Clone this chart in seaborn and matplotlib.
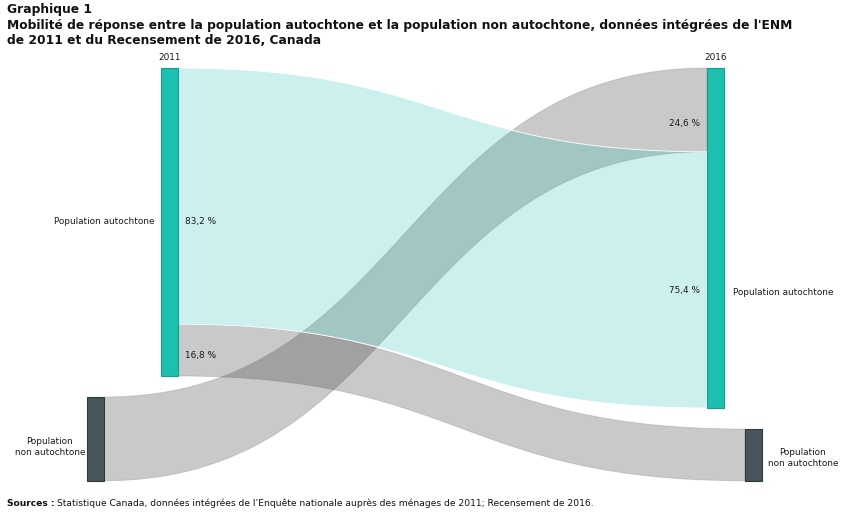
import matplotlib
matplotlib.use("Agg")
import matplotlib.pyplot as plt
from matplotlib.path import Path
from matplotlib.patches import PathPatch, Rectangle
from matplotlib.colors import to_rgba
import seaborn as sns

# ---------------- data ----------------
nodes_2011 = ["Population autochtone", "Population non autochtone"]
nodes_2016 = ["Population autochtone", "Population non autochtone"]
year_labels = ["2011", "2016"]
# flows (source index in 2011, target index in 2016, value; 2011 autochtone = 100)
flow_source = [0, 0, 1]
flow_target = [0, 1, 0]
flow_value = [83.2, 16.8, 27.2]
title_lines = ["Graphique 1",
               "Mobilité de réponse entre la population autochtone et la population non autochtone, données intégrées de l'ENM",
               "de 2011 et du Recensement de 2016, Canada"]
source_note = "Statistique Canada, données intégrées de l\u2019Enquête nationale auprès des ménages de 2011; Recensement de 2016."

# ---------------- style ----------------
sns.set_theme(style="white")
plt.rcParams['font.family'] = ['DejaVu Sans']

teal = "#1cbfb0"
teal_edge = "#159c8f"
dark = "#48555a"
dark_edge = "#2f3a3e"
node_colors = [teal, dark]
node_edges = [teal_edge, dark_edge]
stay_color = to_rgba("#1bbfaf", 0.22)     # same group in 2011 and 2016
move_color = to_rgba("#363636", 0.265)    # changed group

W, H = 850, 515
fig = plt.figure(figsize=(W / 100, H / 100), dpi=100)
ax = fig.add_axes([0, 0, 1, 1])
ax.set_xlim(0, W)
ax.set_ylim(H, 0)
ax.axis("off")

# layout (pixels)
scale = 3.08          # px per unit
top = 68
gap = 21
node_w = 17
x_left = [161, 87]
x_right = [707, 745]

def totals(idx_list, n):
    t = [0.0] * n
    for i, v in zip(idx_list, flow_value):
        t[i] += v
    return t

tot_l = totals(flow_source, len(nodes_2011))
tot_r = totals(flow_target, len(nodes_2016))

def node_y(tots):
    ys, y = [], top
    for t in tots:
        ys.append(y)
        y += t * scale + gap
    return ys

y_l = node_y(tot_l)
y_r = node_y(tot_r)

# order of links within each node end
order_src = {0: [0, 1], 1: [2]}
order_tgt = {0: [2, 0], 1: [1]}
src_pos, tgt_pos = {}, {}
for n, lst in order_src.items():
    y = y_l[n]
    for k in lst:
        src_pos[k] = (y, y + flow_value[k] * scale)
        y += flow_value[k] * scale
for n, lst in order_tgt.items():
    y = y_r[n]
    for k in lst:
        tgt_pos[k] = (y, y + flow_value[k] * scale)
        y += flow_value[k] * scale

# links: grey (moves) first, teal (stay) on top
draw_order = sorted(range(len(flow_value)), key=lambda k: flow_source[k] == flow_target[k])
for k in draw_order:
    s, t = flow_source[k], flow_target[k]
    stay = (nodes_2011[s] == nodes_2016[t])
    x0 = x_left[s] + node_w
    x1 = x_right[t]
    xm = (x0 + x1) / 2
    (a0, a1), (b0, b1) = src_pos[k], tgt_pos[k]
    verts = [(x0, a0), (xm, a0), (xm, b0), (x1, b0),
             (x1, b1), (xm, b1), (xm, a1), (x0, a1), (x0, a0)]
    codes = [Path.MOVETO, Path.CURVE4, Path.CURVE4, Path.CURVE4,
             Path.LINETO, Path.CURVE4, Path.CURVE4, Path.CURVE4, Path.CLOSEPOLY]
    ax.add_patch(PathPatch(Path(verts, codes),
                           facecolor=stay_color if stay else move_color,
                           edgecolor=(1, 1, 1, 0.9) if stay else (0.45, 0.45, 0.45, 0.25),
                           lw=0.7, zorder=2))

# nodes
for i, name in enumerate(nodes_2011):
    ax.add_patch(Rectangle((x_left[i], y_l[i]), node_w, tot_l[i] * scale,
                           facecolor=node_colors[i], edgecolor=node_edges[i], lw=0.8, zorder=3))
for i, name in enumerate(nodes_2016):
    ax.add_patch(Rectangle((x_right[i], y_r[i]), node_w, tot_r[i] * scale,
                           facecolor=node_colors[i], edgecolor=node_edges[i], lw=0.8, zorder=3))

fs = 6.4
col_txt = "#1a1a1a"
# year labels
ax.text(x_left[0] + node_w / 2, top - 6, year_labels[0], ha="center", va="bottom", fontsize=fs, color=col_txt)
ax.text(x_right[0] + node_w / 2, top - 6, year_labels[1], ha="center", va="bottom", fontsize=fs, color=col_txt)

# node labels
def wrap(n):
    return n.replace("Population non", "Population\nnon")

ax.text(x_left[0] - 6, y_l[0] + tot_l[0] * scale / 2, wrap(nodes_2011[0]), ha="right", va="center", fontsize=fs, color=col_txt)
ax.text(x_left[1] - 37, y_l[1] + tot_l[1] * scale / 2 + 8, wrap(nodes_2011[1]), ha="center", va="center",
        fontsize=fs, color=col_txt, linespacing=1.25)
ax.text(x_right[0] + node_w + 9, y_r[0] + tot_r[0] * scale * 0.66, wrap(nodes_2016[0]), ha="left", va="center",
        fontsize=fs, color=col_txt)
ax.text(x_right[1] + node_w + 41, y_r[1] + tot_r[1] * scale / 2 + 3, wrap(nodes_2016[1]), ha="center", va="center",
        fontsize=fs, color=col_txt, linespacing=1.25)

# link percentage labels
def pct(v, tot):
    return f"{100 * v / tot:.1f}".replace(".", ",") + " %"

for k in [0, 1]:
    a0, a1 = src_pos[k]
    ax.text(x_left[0] + node_w + 7, a0 + (a1 - a0) * 0.6, pct(flow_value[k], tot_l[flow_source[k]]),
            ha="left", va="center", fontsize=fs, color=col_txt, zorder=4)
for k, frac in [(2, 0.66), (0, 0.54)]:
    b0, b1 = tgt_pos[k]
    ax.text(x_right[0] - 7, b0 + (b1 - b0) * frac, pct(flow_value[k], tot_r[flow_target[k]]),
            ha="right", va="center", fontsize=fs, color=col_txt, zorder=4)

# titles
for i, line in enumerate(title_lines):
    ax.text(7, 10 + i * 15.5, line, ha="left", va="center", fontsize=8.85, fontweight="bold", color="#111111")

t1 = ax.text(7, 503, "Sources :", ha="left", va="center", fontsize=6.6, fontweight="bold", color="#111111")
fig.canvas.draw()
bb = t1.get_window_extent()
x_after = bb.x1 + 3
ax.text(x_after, 503, source_note, ha="left", va="center", fontsize=6.6, color="#111111")

fig.savefig("out.png", dpi=100)
